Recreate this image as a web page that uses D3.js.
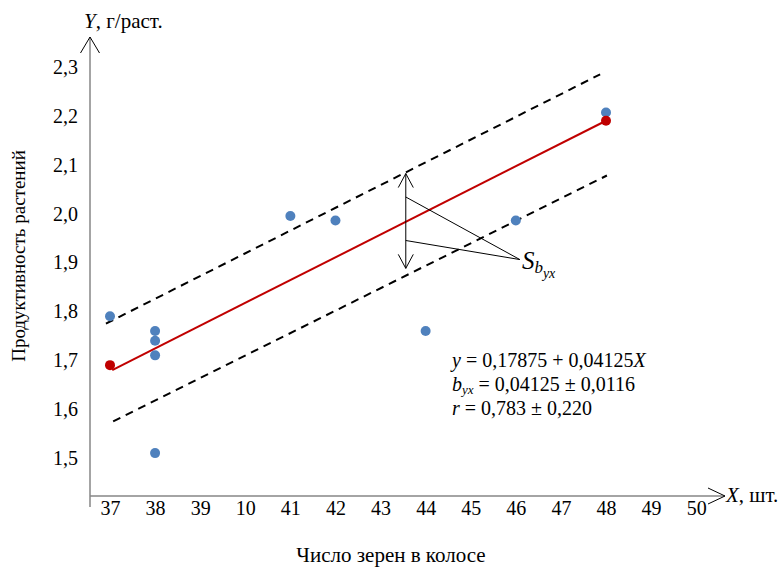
<!DOCTYPE html>
<html>
<head>
<meta charset="utf-8">
<script src="https://cdn.jsdelivr.net/npm/d3@7"></script>
<style>
  body { margin: 0; background: #fff; }
  text { font-family: "Liberation Serif", "DejaVu Serif", serif; fill: #000; }
</style>
</head>
<body>
<div id="chart"></div>
<script>
// tick values and labels (the original chart has "10" in place of 40)
var xTicks = [37, 38, 39, 40, 41, 42, 43, 44, 45, 46, 47, 48, 49, 50];
var xTickLabels = ["37", "38", "39", "10", "41", "42", "43", "44", "45", "46", "47", "48", "49", "50"];
var yTicks = [1.5, 1.6, 1.7, 1.8, 1.9, 2.0, 2.1, 2.2, 2.3];

// observed points
var obsX = [37, 38, 38, 38, 38, 41, 42, 44, 46, 48];
var obsY = [1.79, 1.76, 1.74, 1.71, 1.51, 1.995, 1.986, 1.76, 1.986, 2.207];

// regression end points
var regPointX = [37, 48];
var regPointY = [1.69, 2.19];
var regLineX = [37.05, 48];
var regLineY = [1.68, 2.19];

// confidence (dashed) lines
var upperX = [36.91, 47.87];
var upperY = [1.775, 2.285];
var lowerX = [37.07, 48.02];
var lowerY = [1.575, 2.078];

// S_byx annotation
var arrowX = 43.56, arrowTop = 2.082, arrowBottom = 1.888;
var pointerFromY = [2.034, 1.945];
var pointerTo = {x: 46.09, y: 1.906};

var W = 784, H = 568;
var serif = "'Liberation Serif', 'DejaVu Serif', serif";

var svg = d3.select("#chart").append("svg")
    .attr("width", W)
    .attr("height", H);

var x = d3.scaleLinear().domain([37, 48]).range([110, 606]);
var y = d3.scaleLinear().domain([1.5, 2.3]).range([458, 67]);

var axisColor = "#868686";
var xAxisY = 496;
var yAxisX = 90;

// y axis line + arrow
svg.append("line")
    .attr("x1", yAxisX).attr("x2", yAxisX)
    .attr("y1", y(1.4)).attr("y2", 37)
    .attr("stroke", axisColor).attr("stroke-width", 1.5);
svg.append("path")
    .attr("d", "M" + (yAxisX - 9.5) + ",53 L" + yAxisX + ",37 L" + (yAxisX + 9.5) + ",53")
    .attr("fill", "none").attr("stroke", "#000").attr("stroke-width", 1);

// x axis line + arrow
svg.append("line")
    .attr("x1", yAxisX).attr("x2", 725)
    .attr("y1", xAxisY).attr("y2", xAxisY)
    .attr("stroke", axisColor).attr("stroke-width", 1.5);
svg.append("path")
    .attr("d", "M708,488 L725,496 L708,504")
    .attr("fill", "none").attr("stroke", "#000").attr("stroke-width", 1);

// tick labels via d3 axes
var yAxis = d3.axisLeft(y)
    .tickValues(yTicks)
    .tickSize(0)
    .tickPadding(12)
    .tickFormat(function(d) { return d3.format(".1f")(d).replace(".", ","); });

svg.append("g")
    .attr("transform", "translate(" + yAxisX + ",0)")
    .call(yAxis)
    .call(function(g) { g.select(".domain").remove(); })
    .selectAll("text")
    .style("font-family", serif)
    .style("font-size", "20px")
    .attr("fill", "#000");

var xAxis = d3.axisBottom(x)
    .tickValues(xTicks)
    .tickSize(0)
    .tickPadding(5)
    .tickFormat(function(d, i) { return xTickLabels[i]; });

svg.append("g")
    .attr("transform", "translate(0," + xAxisY + ")")
    .call(xAxis)
    .call(function(g) { g.select(".domain").remove(); })
    .selectAll("text")
    .style("font-family", serif)
    .style("font-size", "20px")
    .attr("fill", "#000");

// dashed lines
var line = d3.line().x(function(d) { return x(d[0]); }).y(function(d) { return y(d[1]); });

[[upperX, upperY], [lowerX, lowerY]].forEach(function(s) {
  svg.append("path")
      .attr("d", line(d3.zip(s[0], s[1])))
      .attr("fill", "none")
      .attr("stroke", "#000")
      .attr("stroke-width", 2)
      .attr("stroke-dasharray", "8,6");
});

// regression line
svg.append("path")
    .attr("d", line(d3.zip(regLineX, regLineY)))
    .attr("fill", "none")
    .attr("stroke", "#c00000")
    .attr("stroke-width", 2);

// annotation arrow
var ax = x(arrowX), at = y(arrowTop), ab = y(arrowBottom);
svg.append("path")
    .attr("d", "M" + ax + "," + at + " L" + ax + "," + ab +
      " M" + (ax - 7.5) + "," + (at + 14) + " L" + ax + "," + at + " L" + (ax + 7.5) + "," + (at + 14) +
      " M" + (ax - 7.5) + "," + (ab - 14) + " L" + ax + "," + ab + " L" + (ax + 7.5) + "," + (ab - 14))
    .attr("fill", "none").attr("stroke", "#000").attr("stroke-width", 1);

pointerFromY.forEach(function(v) {
  svg.append("line")
      .attr("x1", ax).attr("y1", y(v))
      .attr("x2", x(pointerTo.x)).attr("y2", y(pointerTo.y))
      .attr("stroke", "#000").attr("stroke-width", 1);
});

var sLabel = svg.append("text")
    .attr("x", x(pointerTo.x) + 2)
    .attr("y", 269)
    .style("font-size", "25px")
    .style("font-style", "italic");
sLabel.append("tspan").text("S");
sLabel.append("tspan").attr("dy", 4).style("font-size", "17px").text("b");
sLabel.append("tspan").attr("dy", 5).style("font-size", "14px").text("yx");

// points
svg.selectAll("circle.obs")
    .data(d3.zip(obsX, obsY))
    .enter().append("circle")
    .attr("class", "obs")
    .attr("cx", function(d) { return x(d[0]); })
    .attr("cy", function(d) { return y(d[1]); })
    .attr("r", 5)
    .attr("fill", "#4f81bd");

svg.selectAll("circle.reg")
    .data(d3.zip(regPointX, regPointY))
    .enter().append("circle")
    .attr("class", "reg")
    .attr("cx", function(d) { return x(d[0]); })
    .attr("cy", function(d) { return y(d[1]); })
    .attr("r", 5)
    .attr("fill", "#c00000");

// equations
var eq = svg.append("g").style("font-size", "20px");
var t1 = eq.append("text").attr("x", 452).attr("y", 367);
t1.append("tspan").style("font-style", "italic").text("y");
t1.append("tspan").text(" = 0,17875 + 0,04125");
t1.append("tspan").style("font-style", "italic").text("X");

var t2 = eq.append("text").attr("x", 452).attr("y", 391);
t2.append("tspan").style("font-style", "italic").text("b");
t2.append("tspan").style("font-style", "italic").style("font-size", "13px").attr("dy", 3).text("yx");
t2.append("tspan").attr("dy", -3).text(" = 0,04125 ± 0,0116");

var t3 = eq.append("text").attr("x", 452).attr("y", 415);
t3.append("tspan").style("font-style", "italic").text("r");
t3.append("tspan").text(" = 0,783 ± 0,220");

// axis titles
var yt = svg.append("text").attr("x", 84).attr("y", 28).style("font-size", "21px");
yt.append("tspan").style("font-style", "italic").text("Y");
yt.append("tspan").text(", г/раст.");

var xt = svg.append("text").attr("x", 726).attr("y", 502).style("font-size", "21px");
xt.append("tspan").style("font-style", "italic").text("X");
xt.append("tspan").text(", шт.");

svg.append("text")
    .attr("transform", "translate(25,256) rotate(-90)")
    .attr("text-anchor", "middle")
    .style("font-size", "19px")
    .text("Продуктивность растений");

svg.append("text")
    .attr("x", 391).attr("y", 562)
    .attr("text-anchor", "middle")
    .style("font-size", "21px")
    .text("Число зерен в колосе");
</script>
</body>
</html>
